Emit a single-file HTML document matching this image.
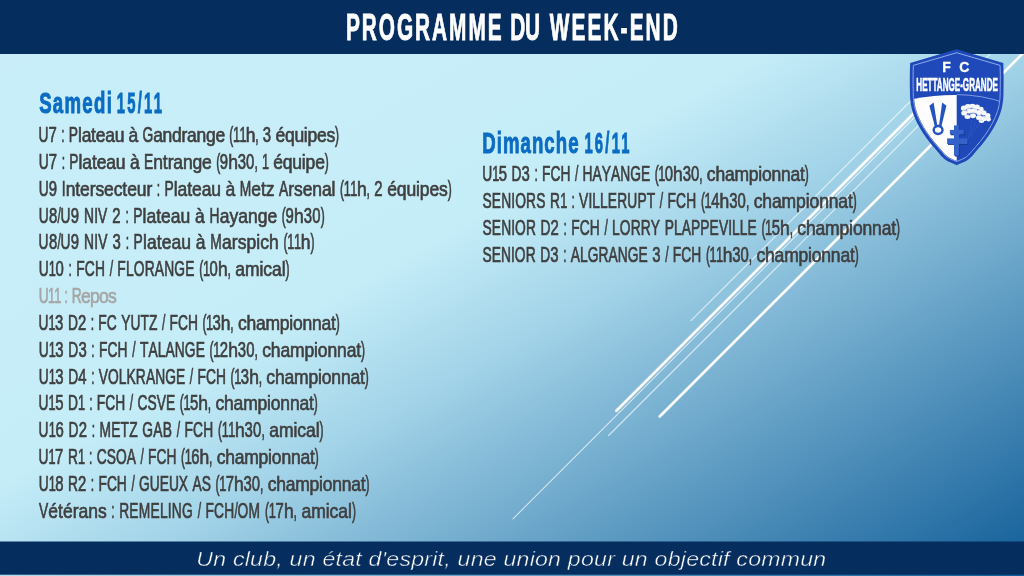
<!DOCTYPE html>
<html><head><meta charset="utf-8">
<style>
html,body{margin:0;padding:0;width:1024px;height:576px;overflow:hidden;background:#8fc4dc;}
svg{position:absolute;left:0;top:0;display:block;will-change:transform;}
text{font-family:"Liberation Sans",sans-serif;white-space:pre;}
.g{fill:#3f3f3f;stroke:#3f3f3f;stroke-width:0.72px;font-size:21.9px;}
.gr{fill:#a6a6a6;stroke:#a6a6a6;stroke-width:0.72px;font-size:21.9px;}
.h{fill:#0b6cc3;stroke:#0b6cc3;stroke-width:1.0px;font-size:29.5px;font-weight:bold;}
.ti{fill:#fff;stroke:#fff;stroke-width:0.9px;font-size:37.2px;font-weight:bold;}
.ft{fill:#fff;stroke:#052d5e;stroke-width:0.45px;font-size:21px;font-style:italic;}
</style></head><body>
<svg width="1024" height="576" viewBox="0 0 1024 576">
<defs>
<linearGradient id="bg" x1="0" y1="0" x2="1" y2="1">
<stop offset="0" stop-color="#c9eef9"/><stop offset="0.42" stop-color="#c5edf8"/><stop offset="0.55" stop-color="#a2d3e8"/><stop offset="0.71" stop-color="#6ea8cb"/><stop offset="1" stop-color="#105d98"/>
</linearGradient>
</defs>
<rect id="bgr" x="0" y="0" width="1024" height="576" fill="url(#bg)"/>
<g id="lines">
<line x1="616.4" y1="410.7" x2="987.0999999999999" y2="40.0" stroke="#fff" stroke-width="2.7" stroke-opacity="1" stroke-linecap="round"/>
<line x1="513" y1="518.8" x2="991.8" y2="40.0" stroke="#fff" stroke-width="1.1" stroke-opacity="0.68" stroke-linecap="round"/>
<line x1="608.6" y1="435.5" x2="1004.1" y2="40.0" stroke="#fff" stroke-width="1.1" stroke-opacity="0.68" stroke-linecap="round"/>
<line x1="659.7" y1="416.5" x2="1036.2" y2="40.0" stroke="#fff" stroke-width="2.7" stroke-opacity="1" stroke-linecap="round"/>
<line x1="691" y1="320.7" x2="971.7" y2="40.0" stroke="#fff" stroke-width="1.1" stroke-opacity="0.68" stroke-linecap="round"/>
</g>
<rect id="top" x="0" y="0" width="1024" height="54" fill="#052d5e"/>
<rect id="bot" x="0" y="541.5" width="1024" height="33.2" fill="#052d5e"/>
<g id="shield">
<path d="M956.70,49.30 L910.10,62.90 L910.06,64.57 L910.02,66.24 L909.97,67.91 L909.93,69.58 L909.88,71.25 L909.85,72.93 L909.82,74.61 L909.80,76.30 L909.79,78.02 L909.79,79.79 L909.80,81.58 L909.81,83.36 L909.82,85.12 L909.84,86.83 L909.87,88.46 L909.90,90.00 L909.93,91.43 L909.95,92.76 L909.97,94.02 L909.99,95.23 L910.03,96.41 L910.09,97.59 L910.18,98.78 L910.30,100.00 L910.45,101.25 L910.61,102.50 L910.79,103.75 L910.99,105.00 L911.22,106.25 L911.48,107.50 L911.77,108.75 L912.10,110.00 L912.46,111.25 L912.85,112.50 L913.28,113.75 L913.73,115.00 L914.21,116.25 L914.72,117.50 L915.25,118.75 L915.80,120.00 L916.38,121.25 L916.98,122.50 L917.60,123.75 L918.26,125.00 L918.93,126.25 L919.63,127.50 L920.35,128.75 L921.10,130.00 L921.87,131.25 L922.66,132.50 L923.48,133.76 L924.33,135.01 L925.19,136.26 L926.07,137.51 L926.98,138.76 L927.90,140.00 L928.84,141.24 L929.81,142.47 L930.80,143.69 L931.81,144.92 L932.83,146.14 L933.87,147.36 L934.93,148.58 L936.00,149.80 L937.07,151.04 L938.15,152.33 L939.23,153.62 L940.33,154.91 L941.46,156.16 L942.63,157.36 L943.84,158.48 L945.10,159.50 L946.43,160.40 L947.82,161.21 L949.27,161.93 L950.74,162.60 L952.24,163.24 L953.74,163.87 L955.23,164.51 L956.70,165.20 L958.17,164.51 L959.66,163.87 L961.16,163.24 L962.66,162.60 L964.13,161.93 L965.58,161.21 L966.97,160.40 L968.30,159.50 L969.56,158.48 L970.77,157.36 L971.94,156.16 L973.07,154.91 L974.17,153.62 L975.25,152.33 L976.33,151.04 L977.40,149.80 L978.47,148.58 L979.53,147.36 L980.57,146.14 L981.59,144.92 L982.60,143.69 L983.59,142.47 L984.56,141.24 L985.50,140.00 L986.42,138.76 L987.33,137.51 L988.21,136.26 L989.08,135.01 L989.92,133.76 L990.74,132.50 L991.53,131.25 L992.30,130.00 L993.05,128.75 L993.77,127.50 L994.47,126.25 L995.14,125.00 L995.80,123.75 L996.42,122.50 L997.02,121.25 L997.60,120.00 L998.15,118.75 L998.68,117.50 L999.19,116.25 L999.67,115.00 L1000.12,113.75 L1000.55,112.50 L1000.94,111.25 L1001.30,110.00 L1001.63,108.75 L1001.92,107.50 L1002.18,106.25 L1002.41,105.00 L1002.61,103.75 L1002.79,102.50 L1002.95,101.25 L1003.10,100.00 L1003.22,98.78 L1003.31,97.59 L1003.37,96.41 L1003.41,95.23 L1003.43,94.02 L1003.45,92.76 L1003.47,91.43 L1003.50,90.00 L1003.53,88.46 L1003.56,86.83 L1003.58,85.12 L1003.59,83.36 L1003.60,81.58 L1003.61,79.79 L1003.61,78.02 L1003.60,76.30 L1003.58,74.61 L1003.55,72.93 L1003.52,71.25 L1003.48,69.58 L1003.43,67.91 L1003.38,66.24 L1003.34,64.57 L1003.30,62.90 L956.70,49.30Z" fill="#1f49b9"/>
<clipPath id="shc"><path d="M913.93,65.85 L913.91,66.35 L913.87,68.02 L913.82,69.68 L913.78,71.34 L913.75,73.00 L913.72,74.66 L913.70,76.33 L913.69,78.03 L913.69,79.79 L913.69,81.56 L913.71,83.33 L913.72,85.08 L913.74,86.77 L913.77,88.39 L913.80,89.92 L913.83,91.36 L913.85,92.70 L913.87,93.95 L913.89,95.12 L913.93,96.25 L913.99,97.35 L914.07,98.45 L914.18,99.59 L914.32,100.77 L914.47,101.97 L914.64,103.15 L914.84,104.33 L915.05,105.50 L915.29,106.66 L915.56,107.82 L915.86,108.97 L916.19,110.12 L916.56,111.29 L916.96,112.46 L917.38,113.64 L917.84,114.82 L918.32,116.01 L918.83,117.20 L919.36,118.40 L919.90,119.59 L920.48,120.78 L921.08,121.97 L921.70,123.17 L922.35,124.37 L923.02,125.57 L923.72,126.78 L924.44,127.98 L925.18,129.19 L925.94,130.39 L926.73,131.61 L927.55,132.82 L928.39,134.03 L929.24,135.24 L930.12,136.45 L931.01,137.65 L931.93,138.85 L932.86,140.04 L933.82,141.23 L934.81,142.43 L935.81,143.62 L936.83,144.82 L937.87,146.02 L938.94,147.24 L940.04,148.52 L941.14,149.82 L942.21,151.10 L943.26,152.33 L944.31,153.49 L945.35,154.57 L946.39,155.53 L947.42,156.36 L948.50,157.10 L949.67,157.77 L950.95,158.41 L952.31,159.03 L953.76,159.65 L955.27,160.28 L956.70,160.90 L958.13,160.28 L959.64,159.65 L961.09,159.03 L962.45,158.41 L963.73,157.77 L964.90,157.10 L965.98,156.36 L967.01,155.53 L968.05,154.57 L969.09,153.49 L970.14,152.33 L971.19,151.10 L972.26,149.82 L973.36,148.52 L974.46,147.24 L975.53,146.02 L976.57,144.82 L977.59,143.62 L978.59,142.43 L979.58,141.23 L980.54,140.04 L981.47,138.85 L982.39,137.65 L983.28,136.45 L984.16,135.24 L985.01,134.03 L985.85,132.82 L986.67,131.61 L987.46,130.39 L988.22,129.19 L988.96,127.98 L989.68,126.78 L990.38,125.57 L991.05,124.37 L991.70,123.17 L992.32,121.97 L992.92,120.78 L993.50,119.59 L994.04,118.40 L994.57,117.20 L995.08,116.01 L995.56,114.82 L996.02,113.64 L996.44,112.46 L996.84,111.29 L997.21,110.12 L997.54,108.97 L997.84,107.82 L998.11,106.66 L998.35,105.50 L998.56,104.33 L998.76,103.15 L998.93,101.97 L999.08,100.77 L999.22,99.59 L999.33,98.45 L999.41,97.35 L999.47,96.25 L999.51,95.12 L999.53,93.95 L999.55,92.70 L999.57,91.36 L999.60,89.93 L999.63,88.39 L999.66,86.77 L999.68,85.08 L999.69,83.33 L999.71,81.56 L999.71,79.79 L999.71,78.03 L999.70,76.33 L999.68,74.66 L999.65,73.00 L999.62,71.34 L999.58,69.68 L999.53,68.02 L999.49,66.35 L999.47,65.85 L956.70,53.36 L913.93,65.85Z"/></clipPath>
<g clip-path="url(#shc)">
<path d="M896.7,102.8 Q928.7,94.5 956.7,94.9 L956.7,179.3 L896.7,179.3 Z" fill="#fdfdfd"/>
</g>
<path d="M913.34,65.39 L913.31,66.33 L913.27,68.00 L913.22,69.67 L913.18,71.33 L913.15,72.99 L913.12,74.66 L913.10,76.33 L913.09,78.03 L913.09,79.79 L913.09,81.56 L913.11,83.34 L913.12,85.08 L913.14,86.78 L913.17,88.40 L913.20,89.94 L913.23,91.37 L913.25,92.71 L913.27,93.96 L913.29,95.14 L913.33,96.27 L913.39,97.38 L913.47,98.50 L913.58,99.65 L913.72,100.85 L913.88,102.05 L914.05,103.25 L914.24,104.43 L914.46,105.62 L914.71,106.79 L914.98,107.96 L915.28,109.13 L915.62,110.30 L915.99,111.47 L916.39,112.66 L916.82,113.85 L917.28,115.04 L917.77,116.24 L918.28,117.44 L918.81,118.64 L919.36,119.84 L919.94,121.04 L920.54,122.25 L921.17,123.45 L921.82,124.66 L922.50,125.87 L923.20,127.08 L923.92,128.29 L924.67,129.50 L925.44,130.72 L926.23,131.94 L927.05,133.16 L927.89,134.37 L928.76,135.59 L929.64,136.81 L930.54,138.01 L931.45,139.21 L932.39,140.41 L933.36,141.61 L934.34,142.81 L935.35,144.01 L936.38,145.21 L937.42,146.41 L938.49,147.63 L939.59,148.91 L940.68,150.21 L941.75,151.49 L942.81,152.73 L943.87,153.90 L944.93,155.00 L946.00,155.98 L947.07,156.85 L948.18,157.61 L949.39,158.30 L950.69,158.95 L952.07,159.58 L953.53,160.20 L955.04,160.83 L956.59,161.51 L956.70,161.56 L956.81,161.51 L958.36,160.83 L959.87,160.20 L961.33,159.58 L962.71,158.95 L964.01,158.30 L965.22,157.61 L966.33,156.85 L967.40,155.98 L968.47,155.00 L969.53,153.90 L970.59,152.73 L971.65,151.49 L972.72,150.21 L973.81,148.91 L974.91,147.63 L975.98,146.41 L977.02,145.21 L978.05,144.01 L979.06,142.81 L980.04,141.61 L981.01,140.41 L981.95,139.21 L982.86,138.01 L983.76,136.81 L984.64,135.59 L985.51,134.37 L986.35,133.16 L987.17,131.94 L987.96,130.72 L988.73,129.50 L989.48,128.29 L990.20,127.08 L990.90,125.87 L991.58,124.66 L992.23,123.45 L992.86,122.25 L993.46,121.04 L994.04,119.84 L994.59,118.64 L995.12,117.44 L995.63,116.24 L996.12,115.04 L996.58,113.85 L997.01,112.66 L997.41,111.47 L997.78,110.30 L998.12,109.13 L998.42,107.96 L998.69,106.79 L998.94,105.62 L999.16,104.43 L999.35,103.25 L999.52,102.05 L999.68,100.85 L999.82,99.65 L999.93,98.50 L1000.01,97.38 L1000.07,96.27 L1000.11,95.14 L1000.13,93.96 L1000.15,92.71 L1000.17,91.37 L1000.20,89.94 L1000.23,88.40 L1000.26,86.78 L1000.28,85.08 L1000.29,83.34 L1000.31,81.56 L1000.31,79.79 L1000.31,78.03 L1000.30,76.33 L1000.28,74.66 L1000.25,72.99 L1000.22,71.33 L1000.18,69.67 L1000.13,68.00 L1000.09,66.33 L1000.06,65.39 L956.70,52.74 L913.34,65.39Z" fill="none" stroke="#8fabea" stroke-width="1.0"/>
<path d="M956.7,94.6 Q981.7,94.8 1004.7,102.8" fill="none" stroke="#8aa6e8" stroke-width="0.9" clip-path="url(#shc)"/>
<g clip-path="url(#shc)">
<path d="M929.4,105.7 L933.6,102.6 L937.4,126.2 L934.8,126.2 Z" fill="#2453c0"/>
<path d="M942.2,102.6 L946.4,105.7 L941.4,126.2 L938.9,126.2 Z" fill="#2453c0"/>
<ellipse cx="938.1" cy="130.0" rx="4.4" ry="4.0" fill="none" stroke="#2453c0" stroke-width="2.4"/>
<rect x="954.9" y="126.30000000000001" width="5.2" height="30.2" fill="#163a90"/><rect x="950.8" y="130.8" width="13.9" height="4.5" fill="#163a90"/><rect x="948.0" y="139.3" width="20.2" height="5.6" fill="#163a90"/>
<rect x="954.0" y="125.4" width="5.2" height="30.2" fill="#3562c9"/><rect x="949.9" y="129.9" width="13.9" height="4.5" fill="#3562c9"/><rect x="947.1" y="138.4" width="20.2" height="5.6" fill="#3562c9"/>
<ellipse cx="963.8" cy="108.2" rx="2.9" ry="2.6" fill="#f6f8fc"/>
<ellipse cx="968" cy="106.4" rx="3.0" ry="2.4" fill="#f6f8fc"/>
<ellipse cx="972.5" cy="106.2" rx="2.8" ry="2.4" fill="#f6f8fc"/>
<ellipse cx="977" cy="107.0" rx="2.8" ry="2.4" fill="#f6f8fc"/>
<ellipse cx="981" cy="109.2" rx="2.6" ry="2.4" fill="#f6f8fc"/>
<ellipse cx="964.2" cy="113.0" rx="3.0" ry="2.6" fill="#f6f8fc"/>
<ellipse cx="969.5" cy="111.0" rx="3.2" ry="2.6" fill="#f6f8fc"/>
<ellipse cx="974.5" cy="110.8" rx="3.0" ry="2.6" fill="#f6f8fc"/>
<ellipse cx="979" cy="112.5" rx="2.9" ry="2.6" fill="#f6f8fc"/>
<ellipse cx="983.8" cy="112.8" rx="2.8" ry="2.6" fill="#f6f8fc"/>
<ellipse cx="987.8" cy="115.5" rx="2.6" ry="2.6" fill="#f6f8fc"/>
<ellipse cx="967.5" cy="116.8" rx="3.0" ry="2.2" fill="#f6f8fc"/>
<ellipse cx="973" cy="115.8" rx="3.0" ry="2.4" fill="#f6f8fc"/>
<ellipse cx="979" cy="117.5" rx="3.0" ry="2.6" fill="#f6f8fc"/>
<ellipse cx="984" cy="118.5" rx="3.0" ry="2.6" fill="#f6f8fc"/>
<ellipse cx="988.5" cy="119.2" rx="2.4" ry="2.4" fill="#f6f8fc"/>
<ellipse cx="981.5" cy="121.0" rx="2.8" ry="1.9" fill="#f6f8fc"/>
<path d="M963,110 q3,-1 5,1 M968,108 q3,1 5,-1 M970,113 q3,1 5,-1 M975,109 q2,2 5,1 M977,115 q3,1 5,0 M982,116 q2,2 4,1 M966,115 q3,0 5,1 M978,120 q3,0 5,1" stroke="#9fb3e6" stroke-width="0.5" fill="none"/>
<path d="M972,120 L969,136 M976,121 L970,136 M980,122 L971,137 M969,136 L966,145" stroke="#5d7fd0" stroke-width="0.45" fill="none" opacity="0.5"/>
</g>
<text x="942.3" y="71.6" style="font-family:'Liberation Sans',sans-serif;font-size:14px;font-weight:bold;fill:#fff;stroke:#fff;stroke-width:0.3px" textLength="27" lengthAdjust="spacing">F C</text>
<text x="916.3" y="90.9" style="font-family:'Liberation Sans',sans-serif;font-size:19px;font-weight:bold;fill:#fff;stroke:#fff;stroke-width:0.65px" textLength="81.6" lengthAdjust="spacingAndGlyphs">HETTANGE-GRANDE</text>
</g>
<g id="txt">
<g id="t_title0"><text x="617.68" y="40.10" class="ti" transform="scale(0.56,1)" textLength="278.02" lengthAdjust="spacing">PROGRAMME</text></g>
<g id="t_title1"><text x="911.32" y="40.10" class="ti" transform="scale(0.56,1)" textLength="53.22" lengthAdjust="spacing">DU</text></g>
<g id="t_title2"><text x="981.75" y="40.10" class="ti" transform="scale(0.56,1)" textLength="228.59" lengthAdjust="spacing">WEEK-END</text></g>
<g id="t_sam0"><text x="62.15" y="112.70" class="h" transform="scale(0.63,1)" textLength="115.39" lengthAdjust="spacing">Samedi</text></g>
<g id="t_sam1"><text x="233.44" y="112.70" class="h" transform="scale(0.5,1)" textLength="90.60" lengthAdjust="spacing">15/11</text></g>
<g id="t_l0" class="g"><text transform="scale(0.63,1.0)" x="61.27" y="142.10">U</text><text transform="scale(0.68,1.0)" x="71.31" y="142.10">7</text><text transform="scale(0.55,1.0)" x="111.33" y="142.10">:</text><text transform="scale(0.63,1.0)" x="109.13" y="142.10">P</text><text transform="scale(0.8,0.91)" x="97.35 102.06 113.84 119.73 131.52 143.30" y="156.15">lateau</text><text transform="scale(0.8,0.91)" x="160.73" y="156.15">à</text><text transform="scale(0.63,1.0)" x="226.24" y="142.10">G</text><text transform="scale(0.8,0.91)" x="191.48 203.26 215.05 226.83 233.89 245.67 257.46 269.24" y="156.15">andrange</text><text transform="scale(0.55,1.0)" x="416.98" y="142.10">(</text><text transform="scale(0.58,1.0)" x="401.61 412.75" y="142.10">11</text><text transform="scale(0.8,0.91)" x="307.32" y="156.15">h</text><text transform="scale(0.55,1.0)" x="464.15" y="142.10">,</text><text transform="scale(0.68,1.0)" x="386.47" y="142.10">3</text><text transform="scale(0.8,0.91)" x="344.43 356.21 368.00 379.78 384.49 396.28 408.06" y="156.15">équipes</text><text transform="scale(0.55,1.0)" x="608.96" y="142.10">)</text></g>
<g id="t_l1" class="g"><text transform="scale(0.63,1.0)" x="61.44" y="168.94">U</text><text transform="scale(0.68,1.0)" x="71.66" y="168.94">7</text><text transform="scale(0.55,1.0)" x="112.08" y="168.94">:</text><text transform="scale(0.63,1.0)" x="109.95" y="168.94">P</text><text transform="scale(0.8,0.91)" x="98.15 102.93 114.87 120.84 132.78 144.73" y="185.65">lateau</text><text transform="scale(0.8,0.91)" x="162.40" y="185.65">à</text><text transform="scale(0.63,1.0)" x="228.66" y="168.94">E</text><text transform="scale(0.8,0.91)" x="191.64 203.59 209.55 216.71 228.65 240.60 252.54" y="185.65">ntrange</text><text transform="scale(0.55,1.0)" x="393.04" y="168.94">(</text><text transform="scale(0.68,1.0)" x="323.26" y="168.94">9</text><text transform="scale(0.8,0.91)" x="285.19" y="185.65">h</text><text transform="scale(0.68,1.0)" x="349.57 361.84" y="168.94">30</text><text transform="scale(0.55,1.0)" x="462.52" y="168.94">,</text><text transform="scale(0.58,1.0)" x="451.74" y="168.94">1</text><text transform="scale(0.8,0.91)" x="341.42 353.36 365.31 377.26 382.03 393.97" y="185.65">équipe</text><text transform="scale(0.55,1.0)" x="590.43" y="168.94">)</text></g>
<g id="t_l2" class="g"><text transform="scale(0.63,1.0)" x="61.43" y="195.78">U</text><text transform="scale(0.68,1.0)" x="71.75" y="195.78">9</text><text transform="scale(0.63,1.0)" x="98.08" y="195.78">I</text><text transform="scale(0.8,0.91)" x="82.09 94.11 100.11 112.13 119.33 130.14 142.16 152.97 158.97 170.99 183.01" y="215.14">ntersecteur</text><text transform="scale(0.55,1.0)" x="285.05" y="195.78">:</text><text transform="scale(0.63,1.0)" x="261.03" y="195.78">P</text><text transform="scale(0.8,0.91)" x="217.20 222.00 234.02 240.03 252.05 264.07" y="215.14">lateau</text><text transform="scale(0.8,0.91)" x="281.85" y="215.14">à</text><text transform="scale(0.63,1.0)" x="380.49" y="195.78">M</text><text transform="scale(0.8,0.91)" x="314.18 326.20 332.20" y="215.14">etz</text><text transform="scale(0.63,1.0)" x="442.88" y="195.78">A</text><text transform="scale(0.8,0.91)" x="360.42 367.61 378.42 390.44 402.46 414.48" y="215.14">rsenal</text><text transform="scale(0.55,1.0)" x="618.25" y="195.78">(</text><text transform="scale(0.58,1.0)" x="592.59 603.95" y="195.78">11</text><text transform="scale(0.8,0.91)" x="446.10" y="215.14">h</text><text transform="scale(0.55,1.0)" x="666.36" y="195.78">,</text><text transform="scale(0.68,1.0)" x="550.25" y="195.78">2</text><text transform="scale(0.8,0.91)" x="483.96 495.98 508.00 520.02 524.82 536.84 548.87" y="215.14">équipes</text><text transform="scale(0.55,1.0)" x="814.07" y="195.78">)</text></g>
<g id="t_l3" class="g"><text transform="scale(0.63,1.0)" x="61.48" y="222.62">U</text><text transform="scale(0.68,1.0)" x="71.99" y="222.62">8</text><text transform="scale(0.55,1.0)" x="104.47" y="222.62">/</text><text transform="scale(0.63,1.0)" x="96.12" y="222.62">U</text><text transform="scale(0.68,1.0)" x="104.09" y="222.62">9</text><text transform="scale(0.63,1.0)" x="133.26 149.48 155.72" y="222.62">NIV</text><text transform="scale(0.68,1.0)" x="165.02" y="222.62">2</text><text transform="scale(0.55,1.0)" x="227.98" y="222.62">:</text><text transform="scale(0.63,1.0)" x="211.37" y="222.62">P</text><text transform="scale(0.8,0.91)" x="178.25 183.12 195.30 201.39 213.57 225.75" y="244.64">lateau</text><text transform="scale(0.8,0.91)" x="243.77" y="244.64">à</text><text transform="scale(0.63,1.0)" x="332.43" y="222.62">H</text><text transform="scale(0.8,0.91)" x="274.57 286.75 297.70 309.88 322.07 334.25" y="244.64">ayange</text><text transform="scale(0.55,1.0)" x="512.39" y="222.62">(</text><text transform="scale(0.68,1.0)" x="419.90" y="222.62">9</text><text transform="scale(0.8,0.91)" x="367.55" y="244.64">h</text><text transform="scale(0.68,1.0)" x="446.74 459.24" y="222.62">30</text><text transform="scale(0.55,1.0)" x="583.26" y="222.62">)</text></g>
<g id="t_l4" class="g"><text transform="scale(0.63,1.0)" x="61.29" y="249.46">U</text><text transform="scale(0.68,1.0)" x="71.89" y="249.46">8</text><text transform="scale(0.55,1.0)" x="104.43" y="249.46">/</text><text transform="scale(0.63,1.0)" x="96.11" y="249.46">U</text><text transform="scale(0.68,1.0)" x="104.16" y="249.46">9</text><text transform="scale(0.63,1.0)" x="133.44 149.75 156.03" y="249.46">NIV</text><text transform="scale(0.68,1.0)" x="165.42" y="249.46">3</text><text transform="scale(0.55,1.0)" x="228.59" y="249.46">:</text><text transform="scale(0.63,1.0)" x="211.97" y="249.46">P</text><text transform="scale(0.8,0.91)" x="178.79 183.68 195.92 202.04 214.29 226.54" y="274.13">lateau</text><text transform="scale(0.8,0.91)" x="244.65" y="274.13">à</text><text transform="scale(0.63,1.0)" x="333.67" y="249.46">M</text><text transform="scale(0.8,0.91)" x="277.58 289.83 297.16 308.17 320.42 325.31 336.32" y="274.13">arspich</text><text transform="scale(0.55,1.0)" x="515.54" y="249.46">(</text><text transform="scale(0.58,1.0)" x="495.31 506.89" y="249.46">11</text><text transform="scale(0.8,0.91)" x="375.88" y="274.13">h</text><text transform="scale(0.55,1.0)" x="564.55" y="249.46">)</text></g>
<g id="t_l5" class="g"><text transform="scale(0.63,1.0)" x="61.43" y="276.30">U</text><text transform="scale(0.58,1.0)" x="84.19" y="276.30">1</text><text transform="scale(0.68,1.0)" x="81.55" y="276.30">0</text><text transform="scale(0.55,1.0)" x="124.57" y="276.30">:</text><text transform="scale(0.63,1.0)" x="120.98 134.58 150.66" y="276.30">FCH</text><text transform="scale(0.55,1.0)" x="199.42" y="276.30">/</text><text transform="scale(0.63,1.0)" x="186.32 199.93 212.32 229.64 245.72 260.58 276.66 293.99" y="276.30">FLORANGE</text><text transform="scale(0.55,1.0)" x="362.18" y="276.30">(</text><text transform="scale(0.58,1.0)" x="349.80" y="276.30">1</text><text transform="scale(0.68,1.0)" x="308.09" y="276.30">0</text><text transform="scale(0.8,0.91)" x="272.42" y="303.63">h</text><text transform="scale(0.55,1.0)" x="413.81" y="276.30">,</text><text transform="scale(0.8,0.91)" x="294.12 306.20 324.29 329.11 339.97 352.05" y="303.63">amical</text><text transform="scale(0.55,1.0)" x="519.09" y="276.30">)</text></g>
<g id="t_l6" class="gr"><text transform="scale(0.63,1.0)" x="61.43" y="303.14">U</text><text transform="scale(0.58,1.0)" x="82.89 93.45" y="303.14">11</text><text transform="scale(0.55,1.0)" x="117.48" y="303.14">:</text><text transform="scale(0.63,1.0)" x="113.88" y="303.14">R</text><text transform="scale(0.8,0.91)" x="101.40 112.58 123.76 134.94" y="333.12">epos</text></g>
<g id="t_l7" class="g"><text transform="scale(0.63,1.0)" x="61.26" y="329.98">U</text><text transform="scale(0.58,1.0)" x="83.73" y="329.98">1</text><text transform="scale(0.68,1.0)" x="81.00" y="329.98">3</text><text transform="scale(0.63,1.0)" x="107.82" y="329.98">D</text><text transform="scale(0.68,1.0)" x="114.56" y="329.98">2</text><text transform="scale(0.55,1.0)" x="165.00" y="329.98">:</text><text transform="scale(0.63,1.0)" x="156.09 169.47" y="329.98">FC</text><text transform="scale(0.63,1.0)" x="192.53 207.15 222.98 236.37" y="329.98">YUTZ</text><text transform="scale(0.55,1.0)" x="294.36" y="329.98">/</text><text transform="scale(0.63,1.0)" x="269.02 282.41 298.23" y="329.98">FCH</text><text transform="scale(0.55,1.0)" x="368.02" y="329.98">(</text><text transform="scale(0.58,1.0)" x="355.24" y="329.98">1</text><text transform="scale(0.68,1.0)" x="312.58" y="329.98">3</text><text transform="scale(0.8,0.91)" x="276.06" y="362.62">h</text><text transform="scale(0.55,1.0)" x="418.83" y="329.98">,</text><text transform="scale(0.8,0.91)" x="297.42 308.11 319.99 331.88 349.68 361.56 366.31 378.19 390.08 401.96 413.85" y="362.62">championnat</text><text transform="scale(0.55,1.0)" x="610.59" y="329.98">)</text></g>
<g id="t_l8" class="g"><text transform="scale(0.63,1.0)" x="61.43" y="356.82">U</text><text transform="scale(0.58,1.0)" x="84.09" y="356.82">1</text><text transform="scale(0.68,1.0)" x="81.39" y="356.82">3</text><text transform="scale(0.63,1.0)" x="108.45" y="356.82">D</text><text transform="scale(0.68,1.0)" x="115.28" y="356.82">3</text><text transform="scale(0.55,1.0)" x="166.12" y="356.82">:</text><text transform="scale(0.63,1.0)" x="157.18 170.69 186.67" y="356.82">FCH</text><text transform="scale(0.55,1.0)" x="240.49" y="356.82">/</text><text transform="scale(0.63,1.0)" x="222.10 235.62 250.38 262.69 277.45 293.43 310.64" y="356.82">TALANGE</text><text transform="scale(0.55,1.0)" x="381.09" y="356.82">(</text><text transform="scale(0.58,1.0)" x="367.69" y="356.82">1</text><text transform="scale(0.68,1.0)" x="323.29" y="356.82">2</text><text transform="scale(0.8,0.91)" x="285.27" y="392.11">h</text><text transform="scale(0.68,1.0)" x="349.73 362.05" y="356.82">30</text><text transform="scale(0.55,1.0)" x="462.85" y="356.82">,</text><text transform="scale(0.8,0.91)" x="327.78 338.57 350.56 362.56 380.54 392.54 397.33 409.33 421.33 433.33 445.33" y="392.11">championnat</text><text transform="scale(0.55,1.0)" x="656.47" y="356.82">)</text></g>
<g id="t_l9" class="g"><text transform="scale(0.63,1.0)" x="61.44" y="383.66">U</text><text transform="scale(0.58,1.0)" x="84.03" y="383.66">1</text><text transform="scale(0.68,1.0)" x="81.31" y="383.66">3</text><text transform="scale(0.63,1.0)" x="108.29" y="383.66">D</text><text transform="scale(0.68,1.0)" x="115.08" y="383.66">4</text><text transform="scale(0.55,1.0)" x="165.78" y="383.66">:</text><text transform="scale(0.63,1.0)" x="156.84 171.54 188.69 200.96 215.66 231.59 246.29 262.22 279.37" y="383.66">VOLKRANGE</text><text transform="scale(0.55,1.0)" x="345.18" y="383.66">/</text><text transform="scale(0.63,1.0)" x="313.45 326.92 342.85" y="383.66">FCH</text><text transform="scale(0.55,1.0)" x="419.29" y="383.66">(</text><text transform="scale(0.58,1.0)" x="403.89" y="383.66">1</text><text transform="scale(0.68,1.0)" x="354.13" y="383.66">3</text><text transform="scale(0.8,0.91)" x="311.44" y="421.60">h</text><text transform="scale(0.55,1.0)" x="470.40" y="383.66">,</text><text transform="scale(0.8,0.91)" x="332.93 343.68 355.64 367.60 385.50 397.46 402.24 414.19 426.15 438.10 450.06" y="421.60">championnat</text><text transform="scale(0.55,1.0)" x="663.32" y="383.66">)</text></g>
<g id="t_l10" class="g"><text transform="scale(0.63,1.0)" x="61.26" y="410.50">U</text><text transform="scale(0.58,1.0)" x="83.80" y="410.50">1</text><text transform="scale(0.68,1.0)" x="81.10" y="410.50">5</text><text transform="scale(0.63,1.0)" x="108.02" y="410.50">D</text><text transform="scale(0.58,1.0)" x="134.60" y="410.50">1</text><text transform="scale(0.55,1.0)" x="162.15" y="410.50">:</text><text transform="scale(0.63,1.0)" x="153.64 167.09 182.98" y="410.50">FCH</text><text transform="scale(0.55,1.0)" x="236.12" y="410.50">/</text><text transform="scale(0.63,1.0)" x="218.22 234.12 248.80 263.48" y="410.50">CSVE</text><text transform="scale(0.55,1.0)" x="326.93" y="410.50">(</text><text transform="scale(0.58,1.0)" x="316.30" y="410.50">1</text><text transform="scale(0.68,1.0)" x="279.41" y="410.50">5</text><text transform="scale(0.8,0.91)" x="247.91" y="451.10">h</text><text transform="scale(0.55,1.0)" x="377.96" y="410.50">,</text><text transform="scale(0.8,0.91)" x="269.36 280.09 292.03 303.96 321.84 333.77 338.54 350.47 362.41 374.34 386.28" y="451.10">championnat</text><text transform="scale(0.55,1.0)" x="570.53" y="410.50">)</text></g>
<g id="t_l11" class="g"><text transform="scale(0.63,1.0)" x="61.30" y="437.34">U</text><text transform="scale(0.58,1.0)" x="84.09" y="437.34">1</text><text transform="scale(0.68,1.0)" x="81.48" y="437.34">6</text><text transform="scale(0.63,1.0)" x="108.72" y="437.34">D</text><text transform="scale(0.68,1.0)" x="115.66" y="437.34">2</text><text transform="scale(0.55,1.0)" x="166.80" y="437.34">:</text><text transform="scale(0.63,1.0)" x="157.87 176.47 191.36 204.99" y="437.34">METZ</text><text transform="scale(0.63,1.0)" x="225.99 243.35 258.24" y="437.34">GAB</text><text transform="scale(0.55,1.0)" x="321.29" y="437.34">/</text><text transform="scale(0.63,1.0)" x="292.75 306.38 322.50" y="437.34">FCH</text><text transform="scale(0.55,1.0)" x="396.31" y="437.34">(</text><text transform="scale(0.58,1.0)" x="382.18 393.62" y="437.34">11</text><text transform="scale(0.8,0.91)" x="293.67" y="480.59">h</text><text transform="scale(0.68,1.0)" x="359.73 372.16" y="437.34">30</text><text transform="scale(0.55,1.0)" x="475.48" y="437.34">,</text><text transform="scale(0.8,0.91)" x="336.55 348.65 366.78 371.61 382.50 394.60" y="480.59">amical</text><text transform="scale(0.55,1.0)" x="581.00" y="437.34">)</text></g>
<g id="t_l12" class="g"><text transform="scale(0.63,1.0)" x="61.26" y="464.18">U</text><text transform="scale(0.58,1.0)" x="83.77" y="464.18">1</text><text transform="scale(0.68,1.0)" x="81.05" y="464.18">7</text><text transform="scale(0.63,1.0)" x="107.92" y="464.18">R</text><text transform="scale(0.58,1.0)" x="134.46" y="464.18">1</text><text transform="scale(0.55,1.0)" x="161.96" y="464.18">:</text><text transform="scale(0.63,1.0)" x="153.45 169.31 183.96 201.04" y="464.18">CSOA</text><text transform="scale(0.55,1.0)" x="255.37" y="464.18">/</text><text transform="scale(0.63,1.0)" x="235.00 248.41 264.28" y="464.18">FCH</text><text transform="scale(0.55,1.0)" x="329.18" y="464.18">(</text><text transform="scale(0.58,1.0)" x="318.42" y="464.18">1</text><text transform="scale(0.68,1.0)" x="281.20" y="464.18">6</text><text transform="scale(0.8,0.91)" x="249.41" y="510.09">h</text><text transform="scale(0.55,1.0)" x="380.10" y="464.18">,</text><text transform="scale(0.8,0.91)" x="270.81 281.52 293.43 305.34 323.18 335.09 339.84 351.75 363.66 375.57 387.48" y="510.09">championnat</text><text transform="scale(0.55,1.0)" x="572.27" y="464.18">)</text></g>
<g id="t_l13" class="g"><text transform="scale(0.63,1.0)" x="61.44" y="491.02">U</text><text transform="scale(0.58,1.0)" x="83.93" y="491.02">1</text><text transform="scale(0.68,1.0)" x="81.17" y="491.02">8</text><text transform="scale(0.63,1.0)" x="108.01" y="491.02">R</text><text transform="scale(0.68,1.0)" x="114.73" y="491.02">2</text><text transform="scale(0.55,1.0)" x="165.22" y="491.02">:</text><text transform="scale(0.63,1.0)" x="156.27 169.66 185.49" y="491.02">FCH</text><text transform="scale(0.55,1.0)" x="238.88" y="491.02">/</text><text transform="scale(0.63,1.0)" x="220.58 237.63 253.45 268.07 283.90" y="491.02">GUEUX</text><text transform="scale(0.63,1.0)" x="305.75 320.37" y="491.02">AS</text><text transform="scale(0.55,1.0)" x="391.99" y="491.02">(</text><text transform="scale(0.58,1.0)" x="377.97" y="491.02">1</text><text transform="scale(0.68,1.0)" x="331.97" y="491.02">7</text><text transform="scale(0.8,0.91)" x="292.54" y="539.58">h</text><text transform="scale(0.68,1.0)" x="358.15 370.35" y="491.02">30</text><text transform="scale(0.55,1.0)" x="472.97" y="491.02">,</text><text transform="scale(0.8,0.91)" x="334.64 345.33 357.21 369.10 386.90 398.78 403.53 415.41 427.30 439.18 451.07" y="539.58">championnat</text><text transform="scale(0.55,1.0)" x="664.73" y="491.02">)</text></g>
<g id="t_l14" class="g"><text transform="scale(0.63,1.0)" x="61.73" y="517.86">V</text><text transform="scale(0.8,0.91)" x="60.40 72.57 78.65 90.82 98.11 110.28 122.45" y="569.08">étérans</text><text transform="scale(0.55,1.0)" x="202.50" y="517.86">:</text><text transform="scale(0.63,1.0)" x="189.11 205.32 220.29 238.98 253.95 266.44 272.67 288.88" y="517.86">REMELING</text><text transform="scale(0.55,1.0)" x="359.38" y="517.86">/</text><text transform="scale(0.63,1.0)" x="326.07 339.77 355.98" y="517.86">FCH</text><text transform="scale(0.55,1.0)" x="426.33" y="517.86">/</text><text transform="scale(0.63,1.0)" x="377.11 394.57" y="517.86">OM</text><text transform="scale(0.55,1.0)" x="481.85" y="517.86">(</text><text transform="scale(0.58,1.0)" x="463.33" y="517.86">1</text><text transform="scale(0.68,1.0)" x="405.01" y="517.86">7</text><text transform="scale(0.8,0.91)" x="354.87" y="569.08">h</text><text transform="scale(0.55,1.0)" x="533.88" y="517.86">,</text><text transform="scale(0.8,0.91)" x="376.75 388.92 407.15 412.01 422.95 435.12" y="569.08">amical</text><text transform="scale(0.55,1.0)" x="639.97" y="517.86">)</text></g>
<g id="t_dim0"><text x="765.56" y="152.80" class="h" transform="scale(0.63,1)" textLength="152.66" lengthAdjust="spacing">Dimanche</text></g>
<g id="t_dim1"><text x="1168.77" y="152.80" class="h" transform="scale(0.5,1)" textLength="90.25" lengthAdjust="spacing">16/11</text></g>
<g id="t_r0" class="g"><text transform="scale(0.63,1.0)" x="765.38" y="181.30">U</text><text transform="scale(0.58,1.0)" x="848.57" y="181.30">1</text><text transform="scale(0.68,1.0)" x="733.37" y="181.30">5</text><text transform="scale(0.63,1.0)" x="811.99" y="181.30">D</text><text transform="scale(0.68,1.0)" x="766.96" y="181.30">3</text><text transform="scale(0.55,1.0)" x="971.63" y="181.30">:</text><text transform="scale(0.63,1.0)" x="860.29 873.69 889.53" y="181.30">FCH</text><text transform="scale(0.55,1.0)" x="1045.35" y="181.30">/</text><text transform="scale(0.63,1.0)" x="924.65 940.49 955.12 969.75 984.38 1000.22 1017.29" y="181.30">HAYANGE</text><text transform="scale(0.55,1.0)" x="1190.30" y="181.30">(</text><text transform="scale(0.58,1.0)" x="1134.99" y="181.30">1</text><text transform="scale(0.68,1.0)" x="977.67" y="181.30">0</text><text transform="scale(0.8,0.91)" x="841.40" y="199.23">h</text><text transform="scale(0.68,1.0)" x="1003.87 1016.08" y="181.30">30</text><text transform="scale(0.55,1.0)" x="1271.35" y="181.30">,</text><text transform="scale(0.8,0.91)" x="883.54 894.23 906.12 918.02 935.83 947.73 952.48 964.37 976.27 988.16 1000.06" y="199.23">championnat</text><text transform="scale(0.55,1.0)" x="1463.27" y="181.30">)</text></g>
<g id="t_r1" class="g"><text transform="scale(0.63,1.0)" x="765.96 780.77 795.57 811.60 817.77 835.04 851.07" y="208.10">SENIORS</text><text transform="scale(0.63,1.0)" x="873.19" y="208.10">R</text><text transform="scale(0.58,1.0)" x="965.88" y="208.10">1</text><text transform="scale(0.55,1.0)" x="1038.95" y="208.10">:</text><text transform="scale(0.63,1.0)" x="919.20 934.01 940.18 952.52 964.87 979.67 995.70 1011.73 1026.53" y="208.10">VILLERUPT</text><text transform="scale(0.55,1.0)" x="1199.77" y="208.10">/</text><text transform="scale(0.63,1.0)" x="1059.60 1073.16 1089.19" y="208.10">FCH</text><text transform="scale(0.55,1.0)" x="1274.37" y="208.10">(</text><text transform="scale(0.58,1.0)" x="1214.79" y="208.10">1</text><text transform="scale(0.68,1.0)" x="1045.84" y="208.10">4</text><text transform="scale(0.8,0.91)" x="899.47" y="228.68">h</text><text transform="scale(0.68,1.0)" x="1072.36 1084.71" y="208.10">30</text><text transform="scale(0.55,1.0)" x="1356.38" y="208.10">,</text><text transform="scale(0.8,0.91)" x="942.11 952.93 964.96 977.00 995.03 1007.06 1011.87 1023.91 1035.94 1047.98 1060.02" y="228.68">championnat</text><text transform="scale(0.55,1.0)" x="1550.59" y="208.10">)</text></g>
<g id="t_r2" class="g"><text transform="scale(0.63,1.0)" x="765.97 780.71 795.46 811.43 817.58 834.78" y="234.90">SENIOR</text><text transform="scale(0.63,1.0)" x="858.04" y="234.90">D</text><text transform="scale(0.68,1.0)" x="809.75" y="234.90">2</text><text transform="scale(0.55,1.0)" x="1024.72" y="234.90">:</text><text transform="scale(0.63,1.0)" x="906.73 920.24 936.21" y="234.90">FCH</text><text transform="scale(0.55,1.0)" x="1099.04" y="234.90">/</text><text transform="scale(0.63,1.0)" x="971.62 983.92 1001.12 1017.09 1033.06" y="234.90">LORRY</text><text transform="scale(0.63,1.0)" x="1055.10 1069.85 1082.15 1096.90 1111.65 1126.40 1141.14 1155.89 1162.04 1174.34 1186.63" y="234.90">PLAPPEVILLE</text><text transform="scale(0.55,1.0)" x="1384.49" y="234.90">(</text><text transform="scale(0.58,1.0)" x="1319.18" y="234.90">1</text><text transform="scale(0.68,1.0)" x="1134.85" y="234.90">5</text><text transform="scale(0.8,0.91)" x="975.09" y="258.13">h</text><text transform="scale(0.55,1.0)" x="1435.75" y="234.90">,</text><text transform="scale(0.8,0.91)" x="996.64 1007.42 1019.41 1031.40 1049.36 1061.35 1066.14 1078.13 1090.12 1102.11 1114.10" y="258.13">championnat</text><text transform="scale(0.55,1.0)" x="1629.23" y="234.90">)</text></g>
<g id="t_r3" class="g"><text transform="scale(0.63,1.0)" x="765.91 780.59 795.26 811.15 817.26 834.37" y="261.70">SENIOR</text><text transform="scale(0.63,1.0)" x="857.52" y="261.70">D</text><text transform="scale(0.68,1.0)" x="809.19" y="261.70">3</text><text transform="scale(0.55,1.0)" x="1023.91" y="261.70">:</text><text transform="scale(0.63,1.0)" x="905.97 920.64 932.88 949.99 965.88 980.55 996.44 1013.56" y="261.70">ALGRANGE</text><text transform="scale(0.68,1.0)" x="959.35" y="261.70">3</text><text transform="scale(0.55,1.0)" x="1209.56" y="261.70">/</text><text transform="scale(0.63,1.0)" x="1068.05 1081.49 1097.37" y="261.70">FCH</text><text transform="scale(0.55,1.0)" x="1283.51" y="261.70">(</text><text transform="scale(0.58,1.0)" x="1223.39 1234.67" y="261.70">11</text><text transform="scale(0.8,0.91)" x="903.31" y="287.58">h</text><text transform="scale(0.68,1.0)" x="1076.75 1089.00" y="261.70">30</text><text transform="scale(0.55,1.0)" x="1361.54" y="261.70">,</text><text transform="scale(0.8,0.91)" x="945.57 956.30 968.23 980.16 998.02 1009.95 1014.72 1026.65 1038.58 1050.51 1062.44" y="287.58">championnat</text><text transform="scale(0.55,1.0)" x="1554.04" y="261.70">)</text></g>
<g id="t_foot"><text x="178.39" y="565.70" class="ft" transform="scale(1.1,1)" textLength="572.65" lengthAdjust="spacing">Un club, un état d&#39;esprit, une union pour un objectif commun</text></g>
</g>
</svg>
</body></html>
